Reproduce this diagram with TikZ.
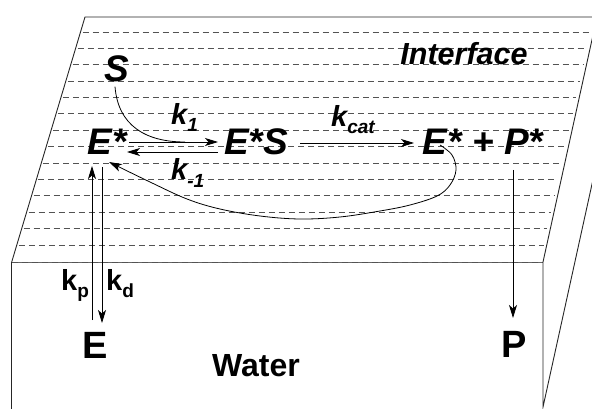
\documentclass[tikz,border=0pt]{standalone}
\usepackage{fontspec}
\setmainfont{Liberation Sans}
\usetikzlibrary{arrows.meta,calc}
\newcommand{\subtxt}[1]{\raisebox{-7pt}{\fontsize{19}{19}\selectfont #1}}
\begin{document}
\begin{tikzpicture}[x=1pt,y=-1pt,
  edge/.style={line width=0.9pt,black!85},
  hatch/.style={line width=0.9pt,gray!65!black,dash pattern=on 6pt off 4pt},
  species/.style={font=\fontsize{37}{37}\selectfont\bfseries\itshape,inner sep=0pt,anchor=base},
  plainlbl/.style={font=\fontsize{38}{38}\selectfont\bfseries,inner sep=0pt,anchor=base},
  ratelbl/.style={font=\fontsize{29}{29}\selectfont\bfseries\itshape,inner sep=0pt,anchor=base west},
  rateup/.style={font=\fontsize{29}{29}\selectfont\bfseries,inner sep=0pt,anchor=base west},
  conn/.style={line width=0.8pt,black,-{Stealth[length=13pt,width=8pt,inset=3.5pt]}},
  thin/.style={line width=0.8pt,black},
]
\useasboundingbox (0,0) rectangle (592,409);
\clip (0,0) rectangle (592,409);

% dashed hatching of the interface
\foreach \i in {0,...,13}{
  \pgfmathsetmacro{\yy}{32+16.385*\i}
  \pgfmathsetmacro{\xl}{85-0.299*(\yy-17)+2}
  \pgfmathsetmacro{\xr}{597-0.22*(\yy-17)-3}
  \draw[hatch] (\xl,\yy) -- (\xr,\yy);
}

% box edges
\coordinate (tl) at (85,17);
\coordinate (tr) at (597,17);
\coordinate (fl) at (11.7,262);
\coordinate (fr) at (543,262);
\coordinate (bl) at (11.7,409);
\coordinate (br) at (543,407);
\coordinate (bbr) at (605,125);
\draw[edge] (fl) -- (tl) -- (tr) -- (fr);
\draw[line width=0.9pt,gray!80!black] (fl) -- (fr);
\draw[hatch] (fl) -- (fr);
\draw[edge] (fl) -- (bl);
\draw[edge] (fr) -- (br) -- (bbr);

% species
\node[species] (S) at (117,82) {S};
\node[species] (Estar) at (107,155) {E*};
\node[species] (ES) at (256,155) {E*S};
\node[species] (EP) at (483,155) {E* + P*};
\node[font=\fontsize{30.5}{30.5}\selectfont\bfseries\itshape,inner sep=0pt,anchor=base] (interface) at (464,65) {Interface};
\node[plainlbl] (E) at (95,358) {E};
\node[plainlbl] (P) at (514,357) {P};
\node[font=\fontsize{32}{32}\selectfont\bfseries,inner sep=0pt,anchor=base] (water) at (256,376) {Water};

% rate constants
\node[ratelbl] (k1) at (171,125) {k\subtxt{1}};
\node[ratelbl] (km1) at (171,180) {k\subtxt{-1}};
\node[ratelbl] (kcat) at (331,127) {k\subtxt{cat}};
\node[rateup] (kp) at (61,290) {k\subtxt{p}};
\node[rateup] (kd) at (106,290) {k\subtxt{d}};

% connector end points
\coordinate (a1) at (129,142);
\coordinate (a2) at (218,142);
\coordinate (b1) at (218,152);
\coordinate (b2) at (127,152);
\coordinate (c1) at (300,143);
\coordinate (c2) at (414,143);
\coordinate (up1) at (92,320);
\coordinate (up2) at (92,166);
\coordinate (dn1) at (102,167);
\coordinate (dn2) at (102,323);
\coordinate (p1) at (513,170);
\coordinate (p2) at (513,318);
\coordinate (merge) at (185,142);

\draw[conn] (a1) -- (a2);
\draw[thin] ($(S.south)+(-2,4)$) .. controls (118,125) and (145,142) .. (merge);
\draw[conn] (b1) -- (b2);
\draw[conn] (c1) -- (c2);
\draw[conn] plot[smooth,tension=0.6] coordinates {(440,145) (452,155) (456,170) (450,185) (437,196) (410,205) (380,211) (340,217) (300,219) (260,216) (220,209) (187,199) (150,182) (109,162)};
\draw[conn] (up1) -- (up2);
\draw[conn] (dn1) -- (dn2);
\draw[conn] (p1) -- (p2);
\end{tikzpicture}
\end{document}
